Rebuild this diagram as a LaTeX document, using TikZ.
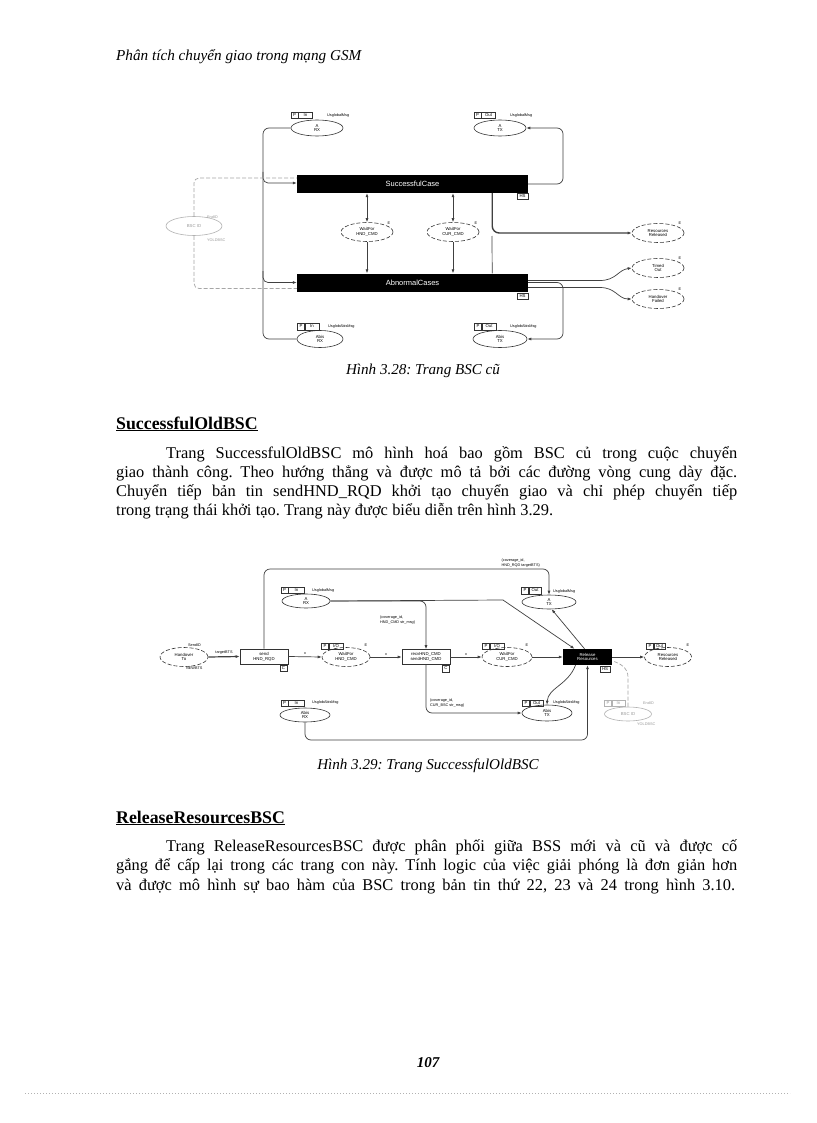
\documentclass[tikz,border=0pt]{standalone}
\usepackage{fontspec}
\setmainfont{Liberation Serif}
\newfontfamily\dfont{Liberation Sans}
\usetikzlibrary{shapes.geometric,arrows.meta,calc}
\frenchspacing
\begin{document}
\begin{tikzpicture}[x=1pt,y=-1pt,
 every node/.style={inner sep=0pt},
 dtext/.style={font=\dfont\fontsize{4.3}{4.8}\selectfont, align=center},
 place/.style={ellipse, draw=black!80, line width=0.6pt, dtext, minimum width=52pt, minimum height=16pt},
 dplace/.style={place, dash pattern=on 4pt off 2pt, minimum height=19pt},
 gplace/.style={place, draw=black!30, text=black!40},
 tag/.style={rectangle, draw=black!80, line width=0.5pt, dtext, minimum height=6.5pt, minimum width=7pt, inner xsep=0.8pt},
 gtag/.style={tag, draw=black!30, text=black!40},
 lbl/.style={font=\dfont\fontsize{3.8}{4.2}\selectfont, align=left},
 glbl/.style={lbl, text=black!40},
 bar/.style={rectangle, fill=black, text=white, font=\dfont\fontsize{7.5}{8}\selectfont, minimum width=231pt, minimum height=18pt},
 bartwo/.style={rectangle, fill=black, text=white, dtext, minimum width=49pt, minimum height=16pt},
 tbox/.style={rectangle, draw=black!80, line width=0.6pt, dtext, minimum width=48pt, minimum height=15pt},
 conn/.style={draw=black!75, line width=0.7pt},
 arr/.style={conn, -{Latex[length=4pt,width=3pt]}},
 darr/.style={conn, {Latex[length=4pt,width=3pt]}-{Latex[length=4pt,width=3pt]}},
 gdash/.style={draw=black!35, line width=0.7pt, dash pattern=on 4pt off 2pt},
 body/.style={font=\fontsize{16.4}{19}\selectfont, anchor=base west},
 head/.style={font=\bfseries\fontsize{17.8}{20}\selectfont, anchor=base west},
 figcap/.style={font=\itshape\fontsize{15.1}{17}\selectfont, anchor=base}
]
\useasboundingbox[fill=white] (0,0) rectangle (816,1123);

% ---------- header ----------
\node[anchor=base west, font=\itshape\fontsize{15.2}{17}\selectfont] (hdr) at (116,61) {Phân tích chuyển giao trong mạng GSM};

% ---------- Figure 3.28 ----------
\node[place] (arx) at (317,128) {A\\RX};
\node[tag] (arxp) at (294.5,115.5) {P};
\node[tag, anchor=west, minimum width=14pt] (arxi) at (arxp.east) {In};
\node[lbl, anchor=west] (arxl) at (327,116) {UsglobalMsg};

\node[place] (atx) at (500,128) {A\\TX};
\node[tag] (atxp) at (477.5,115.5) {P};
\node[tag, anchor=west, minimum width=14pt] (atxo) at (atxp.east) {Out};
\node[lbl, anchor=west] (atxl) at (510,116) {UsglobalMsg};

\node[bar] (sc) at (412.5,184) {SuccessfulCase};
\node[tag, minimum width=11pt] (hs1) at (522.5,196.5) {HS};
\node[bar] (ac) at (412.5,282.5) {AbnormalCases};
\node[tag, minimum width=11pt] (hs2) at (522.5,296) {HS};

\node[dplace] (w1) at (367,232) {WaitFor\\HND\_CMD};
\node[lbl] (w1e) at (389,223) {E};
\node[dplace] (w2) at (453,232) {WaitFor\\CUR\_CMD};
\node[lbl] (w2e) at (476,223) {E};

\node[gplace, minimum width=56pt, minimum height=19pt] (bsc1) at (194,226) {BSC ID};
\node[glbl, anchor=west] (bsc1a) at (207,217) {EndID};
\node[glbl, anchor=west] (bsc1b) at (207,240) {YOLDBSC};

\node[dplace] (rr1) at (658,233) {Resources\\Released};
\node[lbl] (rr1e) at (680,223) {E};
\node[dplace] (to1) at (658,268) {Timed\\Out};
\node[lbl] (to1e) at (680,258) {E};
\node[dplace] (hf1) at (658,299) {Handover\\Failed};
\node[lbl] (hf1e) at (680,289) {E};

\node[place, minimum width=46pt, minimum height=17pt] (abrx) at (320,339) {Abis\\RX};
\node[tag] (abrxp) at (301,326.5) {P};
\node[tag, anchor=west, minimum width=14pt] (abrxi) at (abrxp.east) {In};
\node[lbl, anchor=west] (abrxl) at (328,327) {UsglobAbisMsg};

\node[place, minimum width=54pt, minimum height=17pt] (abtx) at (500,339) {Abis\\TX};
\node[tag] (abtxp) at (478,326.5) {P};
\node[tag, anchor=west, minimum width=14pt] (abtxo) at (abtxp.east) {Out};
\node[lbl, anchor=west] (abtxl) at (510,327) {UsglobAbisMsg};

% connectors fig 3.28
\draw[conn, rounded corners=6] (arx.west) -| (263,200) |- (abrx.west);
\draw[arr, rounded corners=5] (263,172) |- ([yshift=1pt]sc.west);
\draw[arr, rounded corners=5] (263,271) |- (ac.west);
\draw[gdash, rounded corners=5] (bsc1.north) |- ([yshift=6pt]sc.west);
\draw[gdash, rounded corners=5] (bsc1.south) |- ([yshift=-6pt]ac.west);

\draw[arr, rounded corners=6] (sc.east) -| (563,150) |- (atx.east);
\draw[arr, rounded corners=6] (ac.east) -| (563,310) |- (abtx.east);
\draw[arr] ([yshift=2pt]ac.east) -- (600,280.5) .. controls (616,280.5) and (618,270) .. (to1.west);
\draw[arr] ([yshift=-5pt]ac.east) -- (600,287.5) .. controls (616,287.5) and (618,299) .. (hf1.west);
\draw[arr, line width=1.4pt, rounded corners=7] ([xshift=-36pt]sc.south east) |- (rr1.west);
\draw[conn] ([xshift=-36pt]ac.north east) -- (492,236);

\draw[darr] (w1 |- sc.south) -- (w1.north);
\draw[arr] (w1.south) -- (w1 |- ac.north);
\draw[darr] (w2 |- sc.south) -- (w2.north);
\draw[arr] (w2.south) -- (w2 |- ac.north);

\node[figcap] (cap1) at (423,374) {Hình 3.28: Trang BSC cũ};

% ---------- text 1 ----------
\node[head] (h1) at (116,429) {\underline{SuccessfulOldBSC}};
\node[body] (p1a) at (166,458) {\hbox to 571pt{Trang SuccessfulOldBSC mô hình hoá bao gồm BSC củ trong cuộc chuyển}};
\node[body] (p1b) at (116,477.3) {\hbox to 621pt{giao thành công. Theo hướng thẳng và được mô tả bởi các đường vòng cung dày đặc.}};
\node[body] (p1c) at (116,496.6) {\hbox to 621pt{Chuyển tiếp bản tin sendHND\_RQD khởi tạo chuyển giao và chỉ phép chuyển tiếp}};
\node[body] (p1d) at (116,515.9) {\hbox to 437pt{trong trạng thái khởi tạo. Trang này được biểu diễn trên hình 3.29.}};

% ---------- Figure 3.29 ----------
\node[place, minimum width=48pt, minimum height=14pt] (arx2) at (306,601) {A\\RX};
\node[tag] (arx2p) at (284.5,590) {P};
\node[tag, anchor=west, minimum width=16pt] (arx2i) at (arx2p.east) {In};
\node[lbl, anchor=west] (arx2l) at (312,591) {UsglobalMsg};

\node[place, minimum width=54pt, minimum height=14pt] (atx2) at (549,602) {A\\TX};
\node[tag] (atx2p) at (525,590.5) {P};
\node[tag, anchor=west, minimum width=12pt] (atx2o) at (atx2p.east) {Out};
\node[lbl, anchor=west] (atx2l) at (553,592) {UsglobalMsg};

\node[dplace, minimum width=48pt] (hto) at (184,657) {Handover\\To};
\node[lbl, anchor=west] (htoa) at (188,645) {SendID};
\node[lbl, anchor=west] (htob) at (186,668) {NEWBTS};
\node[tbox] (send) at (264,656.5) {send\\HND\_RQD};
\node[tag] (sendc) at (283.5,668) {C};
\node[dplace, minimum width=48pt] (wh2) at (346,657) {WaitFor\\HND\_CMD};
\node[tag] (wh2p) at (325,646) {P};
\node[tag, anchor=west, minimum width=14pt] (wh2i) at (wh2p.east) {I/O};
\node[lbl] (wh2e) at (366,645) {E};
\node[tbox] (recv) at (426,657) {recvHND\_CMD\\sendHND\_CMD};
\node[tag] (recvc) at (446,668.5) {C};
\node[dplace, minimum width=50pt] (wc2) at (507,657) {WaitFor\\CUR\_CMD};
\node[tag] (wc2p) at (486,646) {P};
\node[tag, anchor=west, minimum width=14pt] (wc2i) at (wc2p.east) {I/O};
\node[lbl] (wc2e) at (527,645) {E};
\node[bartwo] (rel) at (587.5,657) {Release\\Resources};
\node[tag, minimum width=10pt] (hs3) at (605,669) {HS};
\node[dplace, minimum width=47pt] (rr2) at (668,657) {Resources\\Released};
\node[tag] (rr2p) at (650,646) {P};
\node[tag, anchor=west, minimum width=11pt] (rr2o) at (rr2p.east) {Out};
\node[lbl] (rr2e) at (688,645) {E};

\node[place, minimum width=50pt, minimum height=14pt] (abrx2) at (305,715) {Abis\\RX};
\node[tag] (abrx2p) at (284.5,703) {P};
\node[tag, anchor=west, minimum width=16pt] (abrx2i) at (abrx2p.east) {In};
\node[lbl, anchor=west] (abrx2l) at (312,703) {UsglobAbisMsg};

\node[place, minimum width=50pt, minimum height=16pt] (abtx2) at (547,713) {Abis\\TX};
\node[tag] (abtx2p) at (526,703) {P};
\node[tag, anchor=west, minimum width=13pt] (abtx2o) at (abtx2p.east) {Out};
\node[lbl, anchor=west] (abtx2l) at (553,703) {UsglobAbisMsg};

\node[gplace, minimum width=47pt, minimum height=14pt] (bsc2) at (628,714) {BSC ID};
\node[gtag] (bsc2p) at (608,703) {P};
\node[gtag, anchor=west, minimum width=13pt] (bsc2i) at (bsc2p.east) {In};
\node[glbl, anchor=west] (bsc2a) at (643,703) {EndID};
\node[glbl, anchor=west] (bsc2b) at (637,724) {YOLDBSC};

% connectors fig 3.29
\draw[arr, line width=1.2pt] (hto.east) -- node[lbl, above=1.5pt] {targetBTS} (send.west);
\draw[arr] (send.east) -- node[lbl, above=1.5pt] {x} (wh2.west);
\draw[arr] (wh2.east) -- node[lbl, above=1.5pt] {x} (recv.west);
\draw[arr] (recv.east) -- node[lbl, above=1.5pt] {x} (wc2.west);
\draw[arr] (wc2.east) -- (rel.west);
\draw[arr] (rel.east) -- (rr2.west);

\draw[arr, rounded corners=6] (send.north) |- (549,569) -- (atx2.north);
\node[lbl, anchor=south east] (lt) at (540,567) {(coverage\_id,\\HND\_RQD targetBTS)};
\draw[arr, rounded corners=6] (arx2.east) -| (recv.north);
\node[lbl, anchor=west] (lm) at (380,620) {(coverage\_id,\\HND\_CMD str\_msg)};
\draw[arr] (arx2.east) -- (503,600) -- ([xshift=-13pt]rel.north);
\draw[arr] ([xshift=-3pt]rel.north) -- (atx2.-70);

\draw[arr, rounded corners=6] (abrx2.south) |- (587.5,740) -- (rel.south);
\draw[arr, rounded corners=6] (recv.south) |- (abtx2.west);
\node[lbl, anchor=west] (lb) at (430,703) {(coverage\_id,\\CUR\_BSC str\_msg)};
\draw[arr] ([xshift=-12pt]rel.south) .. controls (568,685) and (548,688) .. (abtx2.north);
\draw[gdash] (bsc2.north) -- (628,677) .. controls (628,668) and (620,663) .. ([yshift=-4pt]rel.east);

\node[figcap] (cap2) at (428,769) {Hình 3.29: Trang SuccessfulOldBSC};

% ---------- text 2 ----------
\node[head] (h2) at (116,823) {\underline{ReleaseResourcesBSC}};
\node[body] (p2a) at (166,851) {\hbox to 571pt{Trang ReleaseResourcesBSC được phân phối giữa BSS mới và cũ và được cố}};
\node[body] (p2b) at (116,870.5) {\hbox to 621pt{gắng để cấp lại trong các trang con này. Tính logic của việc giải phóng là đơn giản hơn}};
\node[body] (p2c) at (116,890) {\hbox to 619pt{và được mô hình sự bao hàm của BSC trong bản tin thứ 22, 23 và 24 trong hình 3.10.}};

\node[anchor=base, font=\bfseries\itshape\fontsize{15}{17}\selectfont] (pg) at (428,1067) {107};
\draw[black!30, line width=0.5pt, dash pattern=on 1pt off 2pt] (25,1093) -- (790,1093);
\end{tikzpicture}
\end{document}
